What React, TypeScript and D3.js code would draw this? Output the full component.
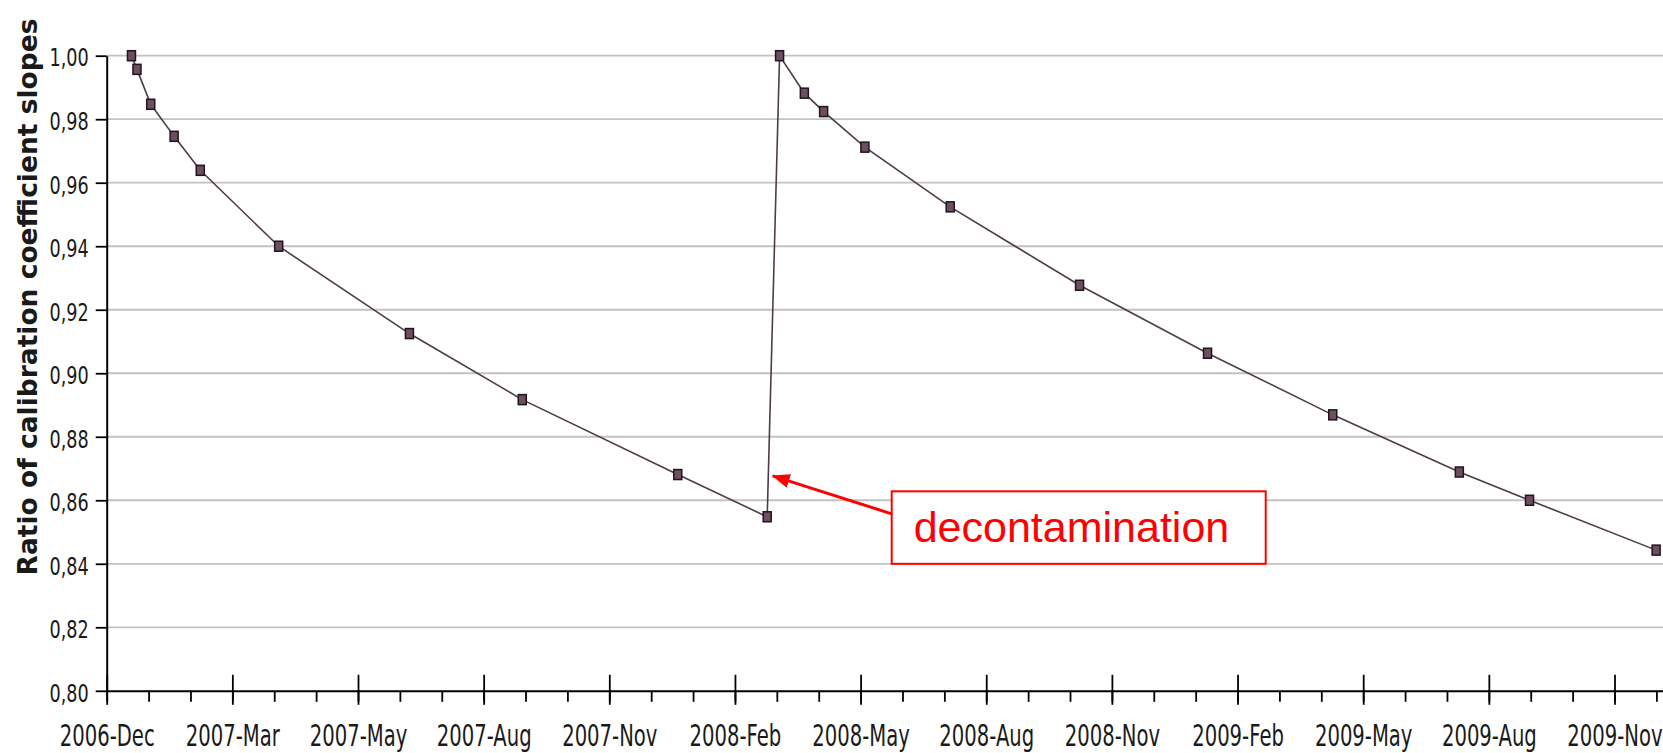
import { useRef, useEffect } from "react";
import * as d3 from "d3";

const measureDates = [
  "2006-12-19", "2006-12-23", "2007-01-02", "2007-01-19", "2007-02-07",
  "2007-04-05", "2007-07-09", "2007-09-29", "2008-01-20", "2008-03-25",
  "2008-04-03", "2008-04-21", "2008-05-05", "2008-06-04", "2008-08-05",
  "2008-11-07", "2009-02-08", "2009-05-10", "2009-08-10", "2009-09-30",
  "2009-12-31",
];
const slopeRatios = [
  1.0, 0.9957, 0.9847, 0.9746, 0.9639,
  0.94, 0.9125, 0.8917, 0.8681, 0.8548,
  1.0, 0.9882, 0.9824, 0.9712, 0.9524,
  0.9277, 0.9063, 0.8869, 0.8689, 0.86,
  0.8443,
];

const yTickValues = [0.8, 0.82, 0.84, 0.86, 0.88, 0.9, 0.92, 0.94, 0.96, 0.98, 1.0];
const xTickLabels = [
  "2006-Dec", "2007-Mar", "2007-May", "2007-Aug", "2007-Nov", "2008-Feb",
  "2008-May", "2008-Aug", "2008-Nov", "2009-Feb", "2009-May", "2009-Aug", "2009-Nov",
];
const axisStart = "2006-12-01";
const axisEnd = "2010-01-05";
const yTitle = "Ratio of calibration coefficient slopes";

const annotationText = "decontamination";
const annotationDate = "2008-03-29";
const annotationValue = 0.8677;

const DAY = 86400000;

export default function App() {
  const svgRef = useRef<SVGSVGElement>(null);

  useEffect(() => {
    if (!svgRef.current) return;
    const svg = d3.select(svgRef.current);
    svg.selectAll("*").remove();

    const width = 1663;
    const height = 753;
    const margin = { top: 55.7, right: 0, bottom: 62.2, left: 106.7 };

    const parse = d3.utcParse("%Y-%m-%d");
    const start = parse(axisStart)!;
    const end = parse(axisEnd)!;

    const x = d3
      .scaleUtc()
      .domain([start, end])
      .range([margin.left, width - margin.right]);
    const y = d3
      .scaleLinear()
      .domain([0.8, 1.0])
      .range([height - margin.bottom, margin.top]);

    svg.append("rect").attr("width", width).attr("height", height).attr("fill", "#fff");

    // horizontal grid
    svg
      .append("g")
      .selectAll("line")
      .data(yTickValues.filter((v) => v > 0.8))
      .join("line")
      .attr("x1", margin.left)
      .attr("x2", width)
      .attr("y1", (d) => y(d))
      .attr("y2", (d) => y(d))
      .attr("stroke", "#c2c2c2")
      .attr("stroke-width", 1.8);

    // x axis: quarterly major ticks, monthly minor ticks
    const quarter = (365.25 / 4) * DAY;
    const month = (365.25 / 12) * DAY;
    const majorDates = xTickLabels.map((_, i) => new Date(start.getTime() + i * quarter));
    const minorDates = d3
      .range(0, Math.floor((end.getTime() - start.getTime()) / month) + 1)
      .map((i) => new Date(start.getTime() + i * month));

    const axisY = height - margin.bottom;

    const minorAxis = svg
      .append("g")
      .attr("transform", `translate(0,${axisY})`)
      .call(
        d3.axisBottom(x).tickValues(minorDates).tickSize(11).tickSizeOuter(0).tickFormat(() => "")
      );
    minorAxis.select(".domain").attr("stroke", "#000").attr("stroke-width", 2);
    minorAxis.selectAll(".tick line").attr("stroke", "#000").attr("stroke-width", 1.8);

    const majorAxis = svg
      .append("g")
      .attr("transform", `translate(0,${axisY})`)
      .call(
        d3
          .axisBottom(x)
          .tickValues(majorDates)
          .tickSize(14)
          .tickSizeOuter(0)
          .tickFormat((_, i) => xTickLabels[i])
      );
    majorAxis.select(".domain").remove();
    majorAxis
      .selectAll(".tick line")
      .attr("y1", -16)
      .attr("stroke", "#000")
      .attr("stroke-width", 1.8);
    majorAxis
      .selectAll(".tick text")
      .attr("y", 55.5)
      .attr("dy", 0)
      .attr("transform", "scale(0.665,1)")
      .attr("font-family", "'DejaVu Sans', sans-serif")
      .attr("font-size", 29.5)
      .attr("fill", "#1a1a1a");

    // y axis
    const commaFmt = d3.formatLocale({
      decimal: ",",
      thousands: ".",
      grouping: [3],
      currency: ["", ""],
    }).format(".2f");

    const yAxis = svg
      .append("g")
      .attr("transform", `translate(${margin.left},0)`)
      .call(
        d3.axisLeft(y).tickValues(yTickValues).tickSize(11).tickSizeOuter(0).tickFormat((d) => commaFmt(d as number))
      );
    yAxis.select(".domain").attr("stroke", "#000").attr("stroke-width", 2);
    yAxis.selectAll(".tick line").attr("stroke", "#000").attr("stroke-width", 1.8);
    yAxis
      .selectAll(".tick text")
      .attr("x", 0)
      .attr("dy", "0.42em")
      .attr("transform", "translate(-18,0) scale(0.72,1)")
      .attr("font-family", "'DejaVu Sans', sans-serif")
      .attr("font-size", 24.5)
      .attr("fill", "#1a1a1a");

    svg
      .append("text")
      .attr("transform", `translate(37,297) rotate(-90)`)
      .attr("text-anchor", "middle")
      .attr("font-family", "'DejaVu Sans', sans-serif")
      .attr("font-weight", "bold")
      .attr("font-size", 26.5)
      .attr("fill", "#1a1a1a")
      .text(yTitle);

    // series
    const points = measureDates.map((d, i) => ({ date: parse(d)!, value: slopeRatios[i] }));
    const line = d3
      .line<{ date: Date; value: number }>()
      .x((d) => x(d.date))
      .y((d) => y(d.value));

    svg
      .append("path")
      .datum(points)
      .attr("d", line)
      .attr("fill", "none")
      .attr("stroke", "#4e3b48")
      .attr("stroke-width", 1.6);

    svg
      .append("g")
      .selectAll("rect")
      .data(points)
      .join("rect")
      .attr("x", (d) => x(d.date) - 4)
      .attr("y", (d) => y(d.value) - 5)
      .attr("width", 8)
      .attr("height", 10)
      .attr("fill", "#6e4e62")
      .attr("stroke", "#1e161b")
      .attr("stroke-width", 1.5);

    // annotation
    const tipX = x(parse(annotationDate)!);
    const tipY = y(annotationValue);
    const box = { x: tipX + 119, y: tipY + 15.5, w: 374, h: 72.5 };

    const defs = svg.append("defs");
    defs
      .append("marker")
      .attr("id", "arrowHead")
      .attr("markerUnits", "userSpaceOnUse")
      .attr("viewBox", "0 0 18 14")
      .attr("markerWidth", 18)
      .attr("markerHeight", 14)
      .attr("refX", 17)
      .attr("refY", 7)
      .attr("orient", "auto")
      .append("path")
      .attr("d", "M0,0 L18,7 L0,14 z")
      .attr("fill", "#ff0000");

    svg
      .append("line")
      .attr("x1", box.x)
      .attr("y1", box.y + 22.5)
      .attr("x2", tipX)
      .attr("y2", tipY)
      .attr("stroke", "#ff0000")
      .attr("stroke-width", 3)
      .attr("marker-end", "url(#arrowHead)");

    svg
      .append("rect")
      .attr("x", box.x)
      .attr("y", box.y)
      .attr("width", box.w)
      .attr("height", box.h)
      .attr("fill", "#fff")
      .attr("stroke", "#ff0000")
      .attr("stroke-width", 2);

    svg
      .append("text")
      .attr("x", box.x + 22)
      .attr("y", box.y + 51)
      .attr("font-family", "'Liberation Sans', Arial, sans-serif")
      .attr("font-size", 43)
      .attr("fill", "#ff0000")
      .text(annotationText);
  }, []);

  return (
    <svg
      ref={svgRef}
      width={1663}
      height={753}
      style={{ position: "absolute", left: 0, top: 0, display: "block" }}
    />
  );
}
